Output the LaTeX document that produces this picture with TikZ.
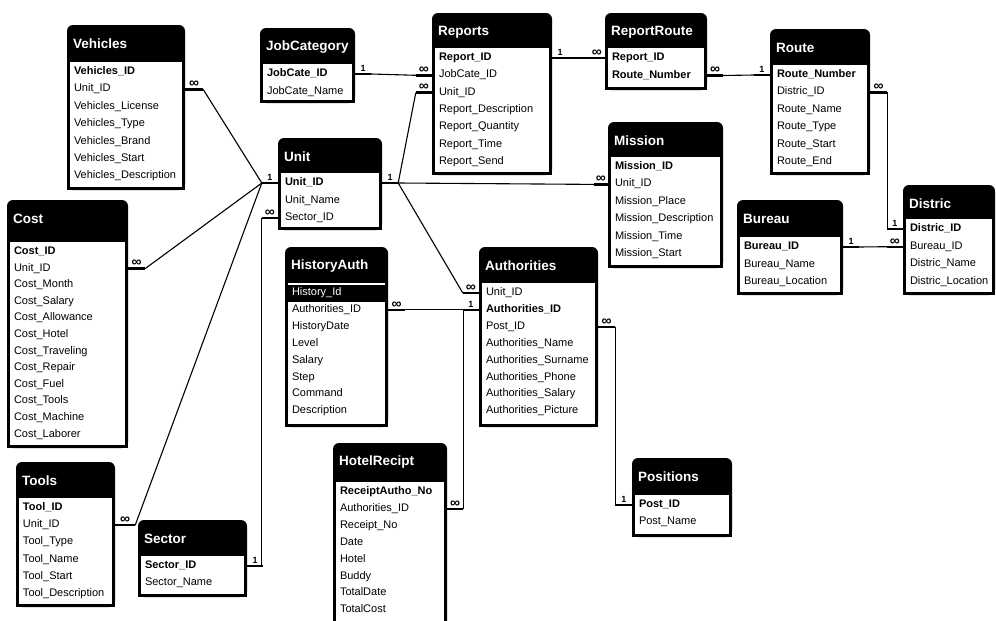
\documentclass[tikz,border=0pt]{standalone}
\usepackage{fontspec}
\setmainfont{Liberation Sans}
\usetikzlibrary{calc}
\hyphenpenalty=10000
\exhyphenpenalty=10000

% #1 name, #2 left, #3 top, #4 right, #5 bottom, #6 first row, #7 row step, #8 title, #9 fields
\newcommand{\dbtable}[9]{%
  \fill[rounded corners=6pt] (#2,#3) rectangle (#4,#5);
  \fill (#2,#3+10) rectangle (#4,#5);
  \fill[white] (#2+3,#6-10) rectangle (#4-3,#5-3);
  \node[tabletitle] (#1-title) at (#2+6,#3+19) {#8};
  \pgfmathsetmacro\fieldw{#4-#2-14}
  \foreach \f [count=\i] in {#9}
    \node[field, text width=\fieldw pt] (#1-\i) at ({(#2+#4)/2},{#6+(\i-1)*#7}) {\f};
}

\begin{document}
\begin{tikzpicture}[x=1pt,y=-1pt,
  field/.style={inner xsep=7pt, inner ysep=0pt, text height=8pt, text depth=3pt,
    align=left, font=\fontsize{11}{13}\selectfont},
  tabletitle/.style={anchor=west, text=white, inner sep=0pt,
    font=\fontsize{13.5}{14}\selectfont\bfseries},
  stub/.style={line width=2.4pt},
  link/.style={line width=1.1pt},
  one/.style={above, inner sep=1.5pt, font=\fontsize{9}{9}\selectfont\bfseries},
  many/.style={above, inner sep=0.5pt, font=\fontsize{14}{14}\selectfont\bfseries}]
\useasboundingbox (0,0) rectangle (996,621);
\clip (0,0) rectangle (996,621);
\fill[white] (0,0) rectangle (996,621);

\dbtable{veh}{67}{25}{185}{190}{72}{17.4}{Vehicles}{\textbf{Vehicles\_ID}, Unit\_ID, Vehicles\_License, Vehicles\_Type, Vehicles\_Brand, Vehicles\_Start, Vehicles\_Description}
\dbtable{job}{260}{28}{355}{103}{74}{17.5}{JobCategory}{\textbf{JobCate\_ID}, JobCate\_Name}
\dbtable{rep}{432}{13}{552}{175}{58}{17.3}{Reports}{\textbf{Report\_ID}, JobCate\_ID, Unit\_ID, Report\_Description, Report\_Quantity, Report\_Time, Report\_Send}
\dbtable{rr}{605}{13}{707}{90}{58}{17.5}{ReportRoute}{\textbf{Report\_ID}, \textbf{Route\_Number}}
\dbtable{route}{770}{29}{870}{175}{75}{17.4}{Route}{\textbf{Route\_Number}, Distric\_ID, Route\_Name, Route\_Type, Route\_Start, Route\_End}
\dbtable{mis}{608}{122}{723}{268}{167}{17.4}{Mission}{\textbf{Mission\_ID}, Unit\_ID, Mission\_Place, Mission\_Description, Mission\_Time, Mission\_Start}
\dbtable{unit}{278}{138}{382}{230}{183}{17.5}{Unit}{\textbf{Unit\_ID}, Unit\_Name, Sector\_ID}
\dbtable{cost}{7}{200}{128}{448}{252}{16.6}{Cost}{\textbf{Cost\_ID}, Unit\_ID, Cost\_Month, Cost\_Salary, Cost\_Allowance, Cost\_Hotel, Cost\_Traveling, Cost\_Repair, Cost\_Fuel, Cost\_Tools, Cost\_Machine, Cost\_Laborer}
\dbtable{tool}{16}{462}{115}{607}{508}{17.2}{Tools}{\textbf{Tool\_ID}, Unit\_ID, Tool\_Type, Tool\_Name, Tool\_Start, Tool\_Description}
\dbtable{sec}{138}{520}{247}{597}{566}{17.3}{Sector}{\textbf{Sector\_ID}, Sector\_Name}
\dbtable{hist}{285}{247}{388}{427}{293}{16.9}{HistoryAuth}{, Authorities\_ID, HistoryDate, Level, Salary, Step, Command, Description}
\dbtable{auth}{479}{247}{598}{427}{293}{16.9}{Authorities}{Unit\_ID, \textbf{Authorities\_ID}, Post\_ID, Authorities\_Name, Authorities\_Surname, Authorities\_Phone, Authorities\_Salary, Authorities\_Picture}
\dbtable{hotel}{333}{443}{447}{650}{492}{16.9}{HotelRecipt}{\textbf{ReceiptAutho\_No}, Authorities\_ID, Receipt\_No, Date, Hotel, Buddy, TotalDate, TotalCost}
\dbtable{pos}{632}{458}{732}{537}{505}{17.3}{Positions}{\textbf{Post\_ID}, Post\_Name}
\dbtable{bur}{737}{200}{843}{295}{247}{17.5}{Bureau}{\textbf{Bureau\_ID}, Bureau\_Name, Bureau\_Location}
\dbtable{dis}{903}{185}{995}{295}{229}{17.7}{Distric}{\textbf{Distric\_ID}, Bureau\_ID, Distric\_Name, Distric\_Location}
\fill (288,285) rectangle (385,301.5);
\node[field, text=white, text width=89pt] (hist-hl) at (hist-1) {History\_Id};

\draw[stub] (unit-1.west) -- node[one] (c-u1) {1} ++(-16,0) coordinate (ul);
\draw[stub] (veh-2.east) -- node[many] (c-v) {∞} ++(18,0) coordinate (vr);
\draw[link] (vr) -- (ul);
\draw[stub] (cost-2.east) -- node[many] (c-c) {∞} ++(17,0) coordinate (cr);
\draw[link] (cr) -- (ul);
\draw[stub] (tool-2.east) -- node[many] (c-t) {∞} ++(20,0) coordinate (tr);
\draw[link] (tr) -- (ul);
\draw[stub] (unit-3.west) -- node[many] (c-u3) {∞} ++(-16,0) coordinate (usl);
\draw[stub] (sec-1.east) -- node[one] (c-s) {1} ++(16,0) coordinate (sr);
\draw[link] (usl) -- (usl |- sr) -- (sr);

\draw[stub] (unit-1.east) -- node[one] (c-u2) {1} ++(16,0) coordinate (ur);
\draw[stub] (rep-3.west) -- node[many] (c-r3) {∞} ++(-16,0) coordinate (rl);
\draw[link] (ur) -- (rl);
\draw[stub] (mis-2.west) -- node[many] (c-m) {∞} ++(-14,0) coordinate (ml);
\draw[link] (ur) -- (ml);
\draw[stub] (auth-1.west) -- node[many] (c-a1) {∞} ++(-16,0) coordinate (al);
\draw[link] (ur) -- (al);

\draw[stub] (job-1.east) -- node[one] (c-j) {1} ++(16,0) coordinate (jr);
\draw[stub] (rep-2.west) -- node[many] (c-r2) {∞} ++(-16,0) coordinate (rl2);
\draw[link] (jr) -- (rl2);
\draw[stub] (rep-1.east) -- node[one] (c-r1) {1} ++(16,0) coordinate (rr1);
\draw[stub] (rr-1.west) -- node[many] (c-rr1) {∞} ++(-16,0) coordinate (rrl);
\draw[link] (rr1) -- (rrl);
\draw[stub] (rr-2.east) -- node[many] (c-rr2) {∞} ++(16,0) coordinate (rrr);
\draw[stub] (route-1.west) -- node[one] (c-ro1) {1} ++(-16,0) coordinate (rol);
\draw[link] (rrr) -- (rol);
\draw[stub] (route-2.east) -- node[many] (c-ro2) {∞} ++(17,0) coordinate (ror);
\draw[stub] (dis-1.west) -- node[one] (c-d1) {1} ++(-16,0) coordinate (dl);
\draw[link] (ror) -- (ror |- dl) -- (dl);
\draw[stub] (bur-1.east) -- node[one] (c-b) {1} ++(16,0) coordinate (br);
\draw[stub] (dis-2.west) -- node[many] (c-d2) {∞} ++(-16,0) coordinate (dl2);
\draw[link] (br) -- (dl2);

\draw[stub] (auth-2.west) -- node[one] (c-a2) {1} ++(-16,0) coordinate (al2);
\draw[stub] (hist-2.east) -- node[many] (c-h) {∞} ++(17,0) coordinate (hr);
\draw[link] (hr) -- (al2);
\draw[stub] (hotel-2.east) -- node[many] (c-ho) {∞} ++(16,0) coordinate (hor);
\draw[link] (hor) -- (hor |- al2) -- (al2);
\draw[stub] (auth-3.east) -- node[many] (c-a3) {∞} ++(17,0) coordinate (ar);
\draw[stub] (pos-1.west) -- node[one] (c-p) {1} ++(-16,0) coordinate (pl);
\draw[link] (ar) -- (ar |- pl) -- (pl);
\end{tikzpicture}
\end{document}
